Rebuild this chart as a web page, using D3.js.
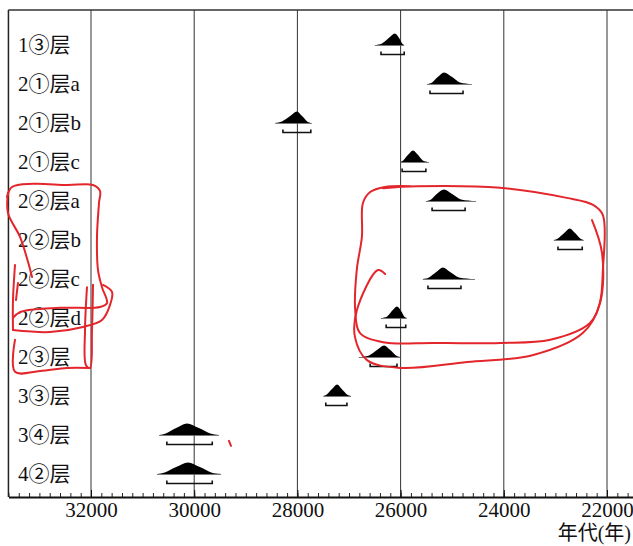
<!DOCTYPE html>
<html>
<head>
<meta charset="utf-8">
<script src="https://cdn.jsdelivr.net/npm/d3@7"></script>
<style>
  body { margin: 0; background: #fff; }
  svg { display: block; }
  .lbl { font-family: "Liberation Serif", "DejaVu Serif", "Noto Sans CJK SC", serif; font-size: 21px; fill: #111; }
  .tick text { font-family: "Liberation Serif", "DejaVu Serif", serif; font-size: 21px; fill: #111; }
</style>
</head>
<body>
<div id="chart"></div>
<script>
/* DATA ------------------------------------------------------------------- */

// layers (rows, top to bottom)
var layers = ["1③层", "2①层a", "2①层b", "2①层c", "2②层a", "2②层b",
              "2②层c", "2②层d", "2③层", "3③层", "3④层", "4②层"];

// probability curve outline per layer: years at the relative heights below
var profileYears = [
    [26500, 26360, 26230, 26110, 26030, 25970, 25930],
    [25490, 25390, 25280, 25160, 25000, 24850, 24620],
    [28430, 28300, 28140, 28010, 27910, 27810, 27720],
    [26010, 25950, 25860, 25760, 25660, 25570, 25450],
    [25510, 25410, 25300, 25160, 25000, 24830, 24540],
    [23030, 22950, 22830, 22720, 22620, 22520, 22450],
    [25570, 25450, 25310, 25180, 25040, 24870, 24560],
    [26380, 26260, 26170, 26070, 25990, 25930, 25880],
    [26810, 26610, 26460, 26320, 26200, 26090, 26010],
    [27500, 27430, 27330, 27230, 27140, 27040, 26960],
    [30680, 30550, 30350, 30140, 29910, 29690, 29520],
    [30720, 30570, 30350, 30120, 29890, 29670, 29480]
];
var profileHeights = [0, 0.14, 0.6, 1, 0.6, 0.14, 0];

// 95.4% range brackets under each curve
var rangeFrom = [26380, 25430, 28280, 25970, 25390, 22950, 25470, 26280, 26590, 27450, 30530, 30530];
var rangeTo   = [25930, 24790, 27740, 25510, 24750, 22480, 24830, 25900, 26070, 27040, 29650, 29650];

// axis
var majorTicks = [32000, 30000, 28000, 26000, 24000, 22000];
var axisTitle = "年代(年)";

// hand drawn red marks, as [year, row position]
var redMarks = [
    // big loop on the right
    [[26340, 3.67], [25680, 3.62], [24070, 3.66], [22780, 3.92], [22270, 4.10], [22080, 4.36],
     [22080, 5.77], [22140, 6.62], [22330, 7.13], [23100, 7.56], [24070, 7.64], [25370, 7.64],
     [26340, 7.62], [26790, 7.38], [26880, 6.79], [26850, 5.77], [26750, 4.92], [26730, 4.05],
     [26590, 3.77], [26300, 3.64], [25800, 3.62]],
    // second loop on the right
    [[26300, 5.87], [26440, 5.77], [26845, 6.79], [26884, 7.49], [26650, 8.08], [26010, 8.28],
     [24710, 8.13], [23430, 7.95], [22465, 7.38], [22136, 6.62], [22097, 5.33], [22291, 4.49]],
    // box round the 2② labels
    [[33628, 3.90], [33531, 3.64], [33124, 3.56], [32465, 3.59], [31961, 3.59], [31826, 3.74],
     [31845, 4.05], [31884, 4.92], [31864, 5.77], [31787, 6.21], [31690, 6.62], [31826, 6.72],
     [32601, 6.74], [33376, 6.85], [33512, 7.0]],
    [[33609, 3.79], [33609, 4.31], [33376, 4.92], [33221, 5.56], [33143, 5.95]],
    [[33473, 5.64], [33512, 6.54], [33512, 7.31]],
    [[33415, 6.10], [33454, 6.54]],
    [[33512, 7.31], [32795, 7.36], [32155, 7.23], [31787, 7.05], [31632, 6.67], [31593, 6.33], [31767, 6.15]],
    [[32078, 6.21], [32116, 7.31], [32097, 8.21], [32019, 8.28], [31981, 7.31], [31961, 6.15]],
    [[33473, 7.56], [33473, 8.38], [32988, 8.36], [32465, 8.28], [32019, 8.28]],
    [[29326, 10.15], [29287, 10.28]]
];

/* BUILD GRAPHIC --------------------------------------------------------- */
function buildChart() {
    var width = 633,
        height = 546,
        top = 10,
        axisY = 497;

    var svg = d3.select("#chart")
    .append("svg")
        .attr("width", width)
        .attr("height", height);

    // time runs right to left
    var x = d3.scaleLinear()
        .domain([33600, 21500])
        .range([8.44, 632.8]);

    // row baselines
    var y = d3.scalePoint()
        .domain(layers)
        .range([45, 474]);
    var yRow = d3.scaleLinear()
        .domain([0, layers.length - 1])
        .range([45, 474]);

    var h = d3.scaleLinear()
        .domain([0, 1])
        .range([0, 11.5]);

    // gridlines at the major ticks
    svg.append("g")
        .selectAll("line")
        .data(majorTicks)
        .enter()
        .append("line")
            .attr("x1", function(d) { return x(d); })
            .attr("x2", function(d) { return x(d); })
            .attr("y1", top)
            .attr("y2", axisY)
            .attr("stroke", "#333")
            .attr("stroke-width", 1);

    // frame: top and left
    svg.append("line")
        .attr("x1", x(33600)).attr("x2", width)
        .attr("y1", top).attr("y2", top)
        .attr("stroke", "#333").attr("stroke-width", 1.5);
    svg.append("line")
        .attr("x1", x(33600)).attr("x2", x(33600))
        .attr("y1", top).attr("y2", axisY)
        .attr("stroke", "#222").attr("stroke-width", 1.5);

    // minor ticks every 200 years
    var minor = svg.append("g")
        .attr("transform", "translate(0," + axisY + ")")
        .call(d3.axisBottom(x)
            .tickValues(d3.range(21600, 33601, 200))
            .tickSize(-4)
            .tickFormat(""));
    minor.select(".domain").remove();
    minor.selectAll("line").attr("stroke", "#222");

    // main axis
    var axis = svg.append("g")
        .attr("transform", "translate(0," + axisY + ")")
        .call(d3.axisBottom(x)
            .tickValues(majorTicks)
            .tickSize(-7)
            .tickSizeOuter(0)
            .tickPadding(5)
            .tickFormat(d3.format("d")));
    axis.select(".domain").attr("stroke", "#111").attr("stroke-width", 2.2);
    axis.selectAll(".tick line").attr("stroke", "#111");

    svg.append("text")
        .attr("class", "lbl")
        .attr("x", width - 2)
        .attr("y", 540)
        .attr("text-anchor", "end")
        .style("font-size", "20px")
        .text(axisTitle);

    // layer labels
    svg.append("g")
        .selectAll("text")
        .data(layers)
        .enter()
        .append("text")
            .attr("class", "lbl")
            .attr("x", 18)
            .attr("y", function(d) { return y(d) + 7; })
            .text(function(d) { return d; });

    // probability curves
    var rows = layers.map(function(name, i) {
        return {
            name: name,
            pts: profileYears[i].map(function(yr, k) { return [yr, profileHeights[k]]; }),
            from: rangeFrom[i],
            to: rangeTo[i]
        };
    });

    var g = svg.append("g")
        .selectAll("g")
        .data(rows)
        .enter()
        .append("g");

    g.append("path")
        .attr("d", function(d) {
            var base = y(d.name);
            return d3.area()
                .x(function(p) { return x(p[0]); })
                .y0(base)
                .y1(function(p) { return base - h(p[1]); })
                .curve(d3.curveMonotoneX)(d.pts);
        })
        .attr("fill", "#000");

    // thin baseline under each curve
    g.append("line")
        .attr("x1", function(d) { return x(d.pts[0][0]); })
        .attr("x2", function(d) { return x(d.pts[d.pts.length - 1][0]); })
        .attr("y1", function(d) { return y(d.name) + 0.5; })
        .attr("y2", function(d) { return y(d.name) + 0.5; })
        .attr("stroke", "#555")
        .attr("stroke-width", 0.8);

    // range bracket
    g.append("path")
        .attr("d", function(d) {
            var by = y(d.name) + 9.5;
            return "M" + x(d.from) + "," + (by - 3) + "V" + by + "H" + x(d.to) + "V" + (by - 3);
        })
        .attr("fill", "none")
        .attr("stroke", "#111")
        .attr("stroke-width", 1.6);

    // red pen marks
    svg.append("g")
        .selectAll("path")
        .data(redMarks)
        .enter()
        .append("path")
            .attr("d", d3.line()
                .x(function(p) { return x(p[0]); })
                .y(function(p) { return yRow(p[1]); })
                .curve(d3.curveCatmullRom))
            .attr("fill", "none")
            .attr("stroke", "#e3262b")
            .attr("stroke-width", 2)
            .attr("stroke-linecap", "round")
            .attr("stroke-linejoin", "round");
}

buildChart();
</script>
</body>
</html>
